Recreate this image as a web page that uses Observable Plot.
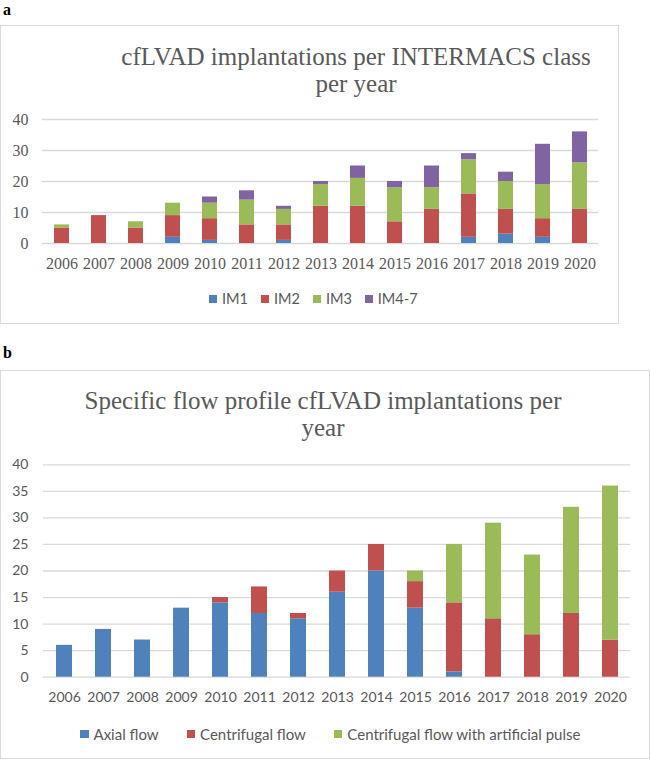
<!DOCTYPE html>
<html>
<head>
<meta charset="utf-8">
<script src="https://cdn.jsdelivr.net/npm/d3@7"></script>
<script src="https://cdn.jsdelivr.net/npm/@observablehq/plot@0.6"></script>
<style>
  html, body { margin: 0; padding: 0; background: #fff; }
  #page { position: relative; width: 651px; height: 761px; background: #fff; overflow: hidden; }
  .panel-label { position: absolute; font-family: "Liberation Serif", serif; font-weight: bold; font-size: 16px; color: #000; }
  .box { position: absolute; border: 1.5px solid #d9d9d9; box-sizing: border-box; }
  .title { position: absolute; font-family: "Liberation Serif", serif; font-size: 25px; color: #595959; text-align: center; line-height: 27px; white-space: nowrap; }
  .legend { position: absolute; display: flex; align-items: center; color: #595959; white-space: nowrap; font-family: Lato, sans-serif; }
  .legend .sw { display: inline-block; width: 8px; height: 8px; margin-right: 5px; }
  .plot { position: absolute; }
  #plotA svg text { font-family: "Liberation Serif", serif; }
  #plotB svg text { font-family: Lato, sans-serif; }
</style>
</head>
<body>
<div id="page">
  <div class="panel-label" style="left:3px; top:1px;">a</div>
  <div class="box" style="left:0px; top:25px; width:619px; height:299px;"></div>
  <div class="title" style="left:100px; width:512px; top:43px;">cfLVAD implantations per INTERMACS class<br>per year</div>
  <div id="plotA" class="plot" style="left:0px; top:100px;"></div>
  <div id="legendA" class="legend" style="left:209px; top:290px; font-size:14.5px;"></div>

  <div class="panel-label" style="left:3px; top:344px;">b</div>
  <div class="box" style="left:0px; top:370px; width:650px; height:389px;"></div>
  <div class="title" style="left:63px; width:520px; top:387px;">Specific flow profile cfLVAD implantations per<br>year</div>
  <div id="plotB" class="plot" style="left:0px; top:450px;"></div>
  <div id="legendB" class="legend" style="left:80px; top:725px; font-size:15px;"></div>
</div>
<script>
// ---- Panel a data ----
const years = ["2006","2007","2008","2009","2010","2011","2012","2013","2014","2015","2016","2017","2018","2019","2020"];
const classNames = ["IM1", "IM2", "IM3", "IM4-7"];
const im1  = [0, 0, 0, 2, 1, 0, 1, 0, 0, 0, 0, 2, 3, 2, 0];
const im2  = [5, 9, 5, 7, 7, 6, 5, 12, 12, 7, 11, 14, 8, 6, 11];
const im3  = [1, 0, 2, 4, 5, 8, 5, 7, 9, 11, 7, 11, 9, 11, 15];
const im47 = [0, 0, 0, 0, 2, 3, 1, 1, 4, 2, 7, 2, 3, 13, 10];
const yTicksA = [0, 10, 20, 30, 40];

// ---- Panel b data ----
const flowNames = ["Axial flow", "Centrifugal flow", "Centrifugal flow with artificial pulse"];
const axial       = [6, 9, 7, 13, 14, 12, 11, 16, 20, 13, 1, 0, 0, 0, 0];
const centrifugal = [0, 0, 0, 0, 1, 5, 1, 4, 5, 5, 13, 11, 8, 12, 7];
const pulse       = [0, 0, 0, 0, 0, 0, 0, 0, 0, 2, 11, 18, 15, 20, 29];
const yTicksB = [0, 5, 10, 15, 20, 25, 30, 35, 40];

const colorsA = ["#4f81bd", "#c0504d", "#9bbb59", "#8064a2"];
const colorsB = ["#4f81bd", "#c0504d", "#9bbb59"];

function buildRows(names, seriesList) {
  const rows = [];
  years.forEach((yr, i) => {
    names.forEach((n, k) => rows.push({year: yr, series: n, value: seriesList[k][i]}));
  });
  return rows;
}
const dataA = buildRows(classNames, [im1, im2, im3, im47]);
const dataB = buildRows(flowNames, [axial, centrifugal, pulse]);

const serif = "Liberation Serif, serif";
const sans = "Lato, sans-serif";

const plotA = Plot.plot({
  width: 618, height: 180,
  marginLeft: 42, marginRight: 20, marginTop: 19, marginBottom: 37,
  style: {fontFamily: serif, fontSize: "16px", color: "#595959", background: "transparent"},
  x: {domain: years, paddingInner: 0.6, paddingOuter: 0.3, axis: null},
  y: {domain: [0, 40], axis: null},
  color: {domain: classNames, range: colorsA},
  marks: [
    Plot.ruleY(yTicksA, {stroke: "#d9d9d9", strokeWidth: 1.3}),
    Plot.barY(dataA, {x: "year", y: "value", fill: "series", inset: 0}),
    Plot.axisY({ticks: yTicksA, tickSize: 0, tickPadding: 14, fontSize: 16, fontFamily: serif, label: null}),
    Plot.axisX({tickSize: 0, tickPadding: 14, fontSize: 16, fontFamily: serif, label: null})
  ]
});
document.getElementById("plotA").appendChild(plotA);

const plotB = Plot.plot({
  width: 650, height: 260,
  marginLeft: 43, marginRight: 20, marginTop: 14.3, marginBottom: 33.3,
  style: {fontFamily: sans, fontSize: "14px", color: "#595959", background: "transparent"},
  x: {domain: years, paddingInner: 0.59, paddingOuter: 0.295, axis: null},
  y: {domain: [0, 40], axis: null},
  color: {domain: flowNames, range: colorsB},
  marks: [
    Plot.ruleY(yTicksB, {stroke: "#d9d9d9", strokeWidth: 1.3}),
    Plot.barY(dataB, {x: "year", y: "value", fill: "series", inset: 0}),
    Plot.axisY({ticks: yTicksB, tickSize: 0, tickPadding: 15, fontSize: 14, fontFamily: sans, label: null}),
    Plot.axisX({tickSize: 0, tickPadding: 15, fontSize: 14, fontFamily: sans, label: null})
  ]
});
document.getElementById("plotB").appendChild(plotB);

function legend(el, names, colors, gap, sw) {
  names.forEach((n, i) => {
    const item = document.createElement("span");
    item.style.display = "inline-flex";
    item.style.alignItems = "center";
    if (i > 0) item.style.marginLeft = gap + "px";
    const s = document.createElement("span");
    s.className = "sw";
    s.style.background = colors[i];
    s.style.width = sw + "px"; s.style.height = sw + "px";
    item.appendChild(s);
    item.appendChild(document.createTextNode(n));
    el.appendChild(item);
  });
}
legend(document.getElementById("legendA"), classNames, colorsA, 13, 8);
legend(document.getElementById("legendB"), flowNames, colorsB, 28, 8.5);
</script>
</body>
</html>
